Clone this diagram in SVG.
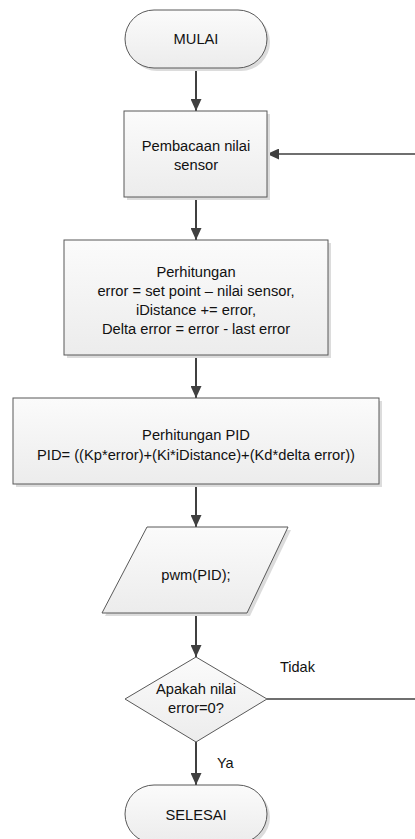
<svg xmlns="http://www.w3.org/2000/svg" width="415" height="839" viewBox="0 0 415 839">
<defs>
<linearGradient id="g" x1="0" y1="0" x2="0" y2="1">
<stop offset="0" stop-color="#fbfbfb"/>
<stop offset="1" stop-color="#ececec"/>
</linearGradient>
<marker id="ah" viewBox="0 0 12 11" refX="12" refY="5.5" markerWidth="12" markerHeight="11" markerUnits="userSpaceOnUse" orient="auto">
<path d="M0,0 L12,5.5 L0,11 Z" fill="#404040"/>
</marker>
</defs>
<style>
.sh{fill:#dcdcdc;stroke:none}
.s{fill:url(#g);stroke:#595959;stroke-width:1}
.t{font-family:"Liberation Sans",Arial,sans-serif;font-size:14.7px;fill:#111111;text-anchor:middle}
.c{fill:none;stroke:#404040;stroke-width:2;marker-end:url(#ah)}
.l{font-family:"Liberation Sans",Arial,sans-serif;font-size:14.5px;fill:#111111}
</style>
<rect width="415" height="839" fill="#ffffff"/>
<g id="connectors">
<line class="c" x1="196" y1="68" x2="196" y2="111"/>
<line class="c" x1="196" y1="197" x2="196" y2="240"/>
<line class="c" x1="196" y1="355" x2="196" y2="398"/>
<line class="c" x1="196" y1="484" x2="196" y2="527"/>
<line class="c" x1="196" y1="613" x2="196" y2="657"/>
<line class="c" x1="196" y1="742" x2="196" y2="785"/>
<path d="M267,699 H422 V154 H267" fill="none" stroke="#404040" stroke-width="1.6" marker-end="url(#ah)"/>
<text class="l" x="280" y="672">Tidak</text>
<text class="l" x="217" y="768">Ya</text>
</g>
<g id="mulai">
<rect class="sh" x="128" y="13" width="142" height="58" rx="29"/>
<rect class="s" x="125" y="10" width="142" height="58" rx="29"/>
<text class="t" x="196" y="44">MULAI</text>
</g>
<g id="pembacaan">
<rect class="sh" x="127" y="114" width="143" height="86"/>
<rect class="s" x="124" y="111" width="143" height="86"/>
<text class="t" x="196" y="151">Pembacaan nilai</text>
<text class="t" x="196" y="170">sensor</text>
</g>
<g id="perhitungan">
<rect class="sh" x="67" y="243" width="264" height="115"/>
<rect class="s" x="64" y="240" width="264" height="115"/>
<text class="t" x="196" y="277">Perhitungan</text>
<text class="t" x="196" y="296">error = set point – nilai sensor,</text>
<text class="t" x="196" y="315">iDistance += error,</text>
<text class="t" x="196" y="334">Delta error = error - last error</text>
</g>
<g id="pid">
<rect class="sh" x="16" y="401" width="366" height="86"/>
<rect class="s" x="13" y="398" width="366" height="86"/>
<text class="t" x="196" y="440">Perhitungan PID</text>
<text class="t" x="196" y="460">PID= ((Kp*error)+(Ki*iDistance)+(Kd*delta error))</text>
</g>
<g id="pwm">
<polygon class="sh" points="150,530 291,530 250,616 105,616"/>
<polygon class="s" points="147,527 288,527 247,613 102,613"/>
<text class="t" x="196" y="580">pwm(PID);</text>
</g>
<g id="keputusan">
<polygon class="s" points="196,657 267,699 196,742 125,699"/>
<text class="t" x="196" y="694">Apakah nilai</text>
<text class="t" x="196" y="713">error=0?</text>
</g>
<g id="selesai">
<rect class="sh" x="128" y="788" width="142" height="58" rx="29"/>
<rect class="s" x="125" y="785" width="142" height="58" rx="29"/>
<text class="t" x="196" y="820">SELESAI</text>
</g>
</svg>
